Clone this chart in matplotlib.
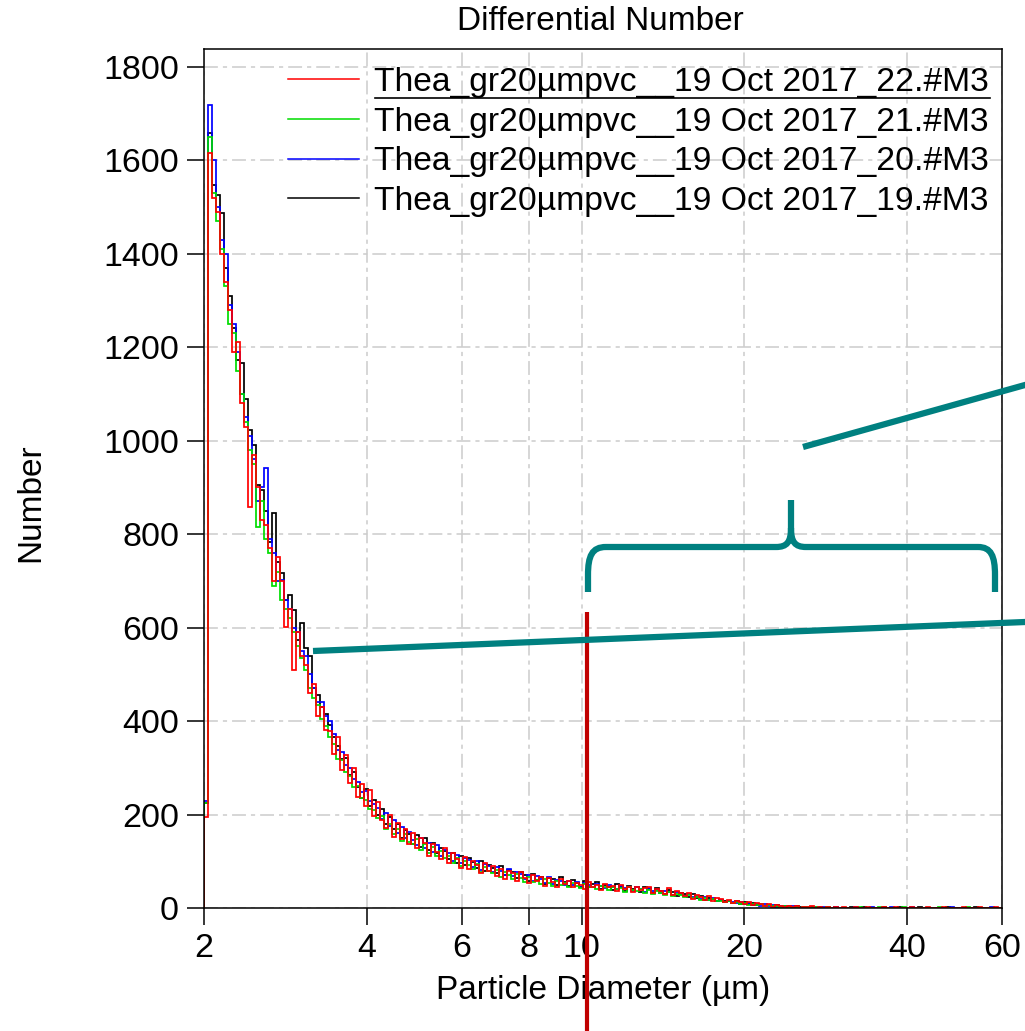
import numpy as np
import matplotlib.pyplot as plt
from matplotlib.path import Path
from matplotlib.patches import PathPatch

plt.rcParams['font.family'] = ['Liberation Sans', 'DejaVu Sans']
plt.rcParams['lines.scale_dashes'] = False

# Differential number per size channel (log-spaced channels from 2 to 60 um)
x_min, x_max = 2.0, 60.0

run_19 = [225,
          1658, 1547, 1525, 1487, 1370, 1310, 1240, 1173, 1166, 1090,
          1023, 990, 905, 895, 850, 783, 845, 740, 716, 659,
          670, 638, 573, 610, 556, 540, 470, 455, 430, 415,
          392, 365, 346, 318, 320, 285, 292, 258, 236, 255,
          218, 232, 200, 212, 180, 194, 168, 180, 150, 166,
          158, 138, 156, 130, 150, 124, 140, 118, 128, 122,
          104, 118, 96, 112, 92, 108, 98, 86, 100, 80,
          92, 86, 74, 90, 70, 82, 78, 64, 76, 70,
          58, 72, 60, 66, 52, 64, 62, 50, 66, 56,
          48, 60, 54, 44, 58, 46, 52, 56, 40, 50,
          46, 38, 52, 44, 36, 48, 40, 45, 34, 44,
          40, 32, 42, 36, 30, 38, 34, 26, 32, 30,
          24, 30, 22, 26, 18, 22, 20, 15, 18, 14,
          15, 11, 14, 9, 12, 8, 10, 6, 9, 5,
          7, 4, 6, 3, 5, 4, 2, 4, 3, 1,
          3, 2, 1, 3, 1, 2, 0, 2, 1, 1,
          0, 2, 0, 1, 3, 0, 0, 1, 0, 2,
          1, 0, 0, 2, 1, 0, 0, 0, 3, 1,
          0, 0, 1, 0, 0, 2, 0, 0, 1, 0,
          0, 0, 2, 0, 0, 1, 0, 0, 0]

run_20 = [230,
          1718, 1600, 1500, 1430, 1400, 1290, 1250, 1190, 1100, 1050,
          1010, 960, 870, 900, 941, 790, 760, 700, 702, 660,
          640, 600, 590, 550, 540, 500, 470, 440, 440, 410,
          400, 372, 338, 334, 306, 300, 276, 270, 248, 250,
          230, 222, 214, 190, 204, 176, 188, 160, 174, 150,
          162, 146, 134, 150, 128, 140, 120, 134, 112, 124,
          118, 100, 114, 96, 106, 102, 88, 100, 82, 94,
          90, 76, 88, 80, 70, 84, 68, 76, 72, 62,
          70, 58, 68, 62, 54, 66, 52, 60, 58, 50,
          58, 50, 56, 46, 54, 50, 44, 52, 48, 42,
          50, 44, 40, 48, 42, 46, 36, 44, 40, 34,
          42, 36, 38, 32, 36, 34, 28, 34, 30, 26,
          30, 24, 26, 20, 24, 18, 21, 16, 18, 13,
          16, 12, 10, 13, 8, 11, 7, 9, 5, 8,
          5, 6, 3, 5, 4, 2, 4, 3, 1, 3,
          2, 1, 3, 1, 2, 0, 1, 2, 1, 0,
          1, 0, 2, 0, 1, 0, 3, 0, 1, 0,
          0, 2, 0, 1, 0, 0, 2, 0, 0, 1,
          0, 0, 1, 0, 0, 0, 2, 0, 0, 1,
          0, 0, 0, 1, 0, 0, 2, 0, 0]

run_21 = [225,
          1650, 1530, 1470, 1410, 1330, 1250, 1230, 1150, 1100, 1040,
          980, 950, 815, 870, 790, 760, 690, 720, 660, 640,
          620, 590, 560, 535, 510, 470, 450, 435, 405, 390,
          366, 350, 318, 316, 290, 282, 258, 262, 236, 232,
          212, 210, 192, 196, 170, 180, 158, 168, 144, 158,
          142, 136, 148, 124, 136, 118, 130, 112, 122, 106,
          112, 96, 106, 90, 100, 92, 84, 94, 78, 88,
          80, 74, 82, 66, 78, 70, 62, 72, 64, 56,
          66, 56, 60, 52, 62, 54, 48, 58, 50, 54,
          46, 54, 48, 42, 52, 44, 46, 40, 48, 44,
          38, 46, 40, 42, 34, 44, 38, 36, 40, 32,
          38, 30, 36, 32, 28, 34, 26, 30, 28, 24,
          28, 22, 24, 18, 22, 17, 19, 14, 16, 13,
          14, 10, 12, 9, 11, 7, 9, 6, 8, 4,
          6, 4, 5, 2, 4, 3, 2, 3, 1, 2,
          2, 1, 2, 0, 1, 2, 1, 0, 1, 1,
          0, 1, 0, 2, 0, 0, 1, 0, 3, 0,
          0, 1, 0, 0, 2, 0, 0, 1, 0, 0,
          1, 0, 0, 2, 0, 0, 0, 1, 0, 0,
          3, 0, 0, 0, 1, 0, 0, 0, 0]

run_22 = [195,
          1616, 1520, 1490, 1400, 1340, 1280, 1190, 1210, 1080, 1030,
          858, 970, 900, 830, 820, 770, 700, 750, 700, 601,
          640, 509, 590, 540, 520, 460, 480, 410, 430, 380,
          378, 330, 366, 296, 328, 268, 300, 238, 266, 218,
          252, 196, 226, 188, 172, 200, 152, 182, 148, 170,
          136, 160, 128, 150, 140, 112, 138, 120, 104, 128,
          96, 118, 104, 86, 110, 84, 100, 92, 74, 96,
          80, 90, 68, 84, 62, 80, 74, 58, 78, 64,
          54, 70, 58, 66, 48, 64, 56, 46, 62, 52,
          58, 44, 54, 50, 40, 56, 46, 50, 38, 52,
          44, 48, 36, 50, 40, 44, 34, 46, 38, 42,
          46, 32, 40, 36, 30, 42, 28, 36, 32, 26,
          32, 20, 28, 24, 18, 26, 16, 22, 19, 12,
          18, 10, 14, 12, 8, 13, 6, 10, 8, 4,
          8, 3, 6, 4, 2, 5, 3, 4, 1, 3,
          2, 4, 1, 2, 0, 3, 1, 2, 0, 2,
          1, 0, 3, 0, 1, 2, 0, 1, 0, 2,
          0, 1, 3, 0, 1, 0, 2, 0, 1, 0,
          2, 0, 0, 1, 3, 0, 1, 0, 0, 2,
          0, 1, 0, 2, 0, 1, 0, 2, 1]

labels = ['Thea_gr20\u00b5mpvc__19 Oct 2017_22.#M3',
          'Thea_gr20\u00b5mpvc__19 Oct 2017_21.#M3',
          'Thea_gr20\u00b5mpvc__19 Oct 2017_20.#M3',
          'Thea_gr20\u00b5mpvc__19 Oct 2017_19.#M3']
colors = ['#ff0000', '#00dd00', '#0000ff', '#000000']
runs = [run_22, run_21, run_20, run_19]

x_ticks = [2, 4, 6, 8, 10, 20, 40, 60]
y_ticks = list(range(0, 1801, 200))

W, H = 1025, 1031
fig = plt.figure(figsize=(W / 100, H / 100), dpi=100)
ax = fig.add_axes([204 / W, 123 / H, 798 / W, 859 / H])

# draw black first so red ends on top
handles = [None] * 4
for i in [3, 2, 1, 0]:
    vals = runs[i]
    edges = np.geomspace(x_min, x_max, len(vals) + 1)
    ax.stairs(vals, edges, color=colors[i], lw=1.25, baseline=0)
    handles[i], = ax.plot([], [], color=colors[i], lw=1.1)

ax.set_xscale('log')
ax.set_xlim(x_min, x_max)
ax.set_ylim(0, 1838)
ax.set_xticks(x_ticks)
ax.set_xticklabels([str(t) for t in x_ticks])
ax.xaxis.set_minor_locator(plt.NullLocator())
ax.set_yticks(y_ticks)
ax.tick_params(axis='both', direction='out', length=12, width=1.1,
               labelsize=24.5, pad=6)
for s in ax.spines.values():
    s.set_linewidth(1.1)
ax.grid(True, color='#cccccc', lw=1.1, linestyle=(0, (10, 3.6, 3, 3.6)))
ax.set_axisbelow(True)

ax.set_xlabel('Particle Diameter (\u00b5m)', fontsize=24)
ax.xaxis.set_label_coords(0.5, -0.0955)
ax.xaxis.label.set_va('center')
ax.set_ylabel('Number', fontsize=24)
ax.yaxis.set_label_coords(-0.2168, 0.472)
ax.yaxis.label.set_va('center')
fig.text(600 / W, 1 - 21 / H, 'Differential Number', fontsize=24,
         ha='center', va='center')

ax.legend(handles, labels, loc='upper left',
          bbox_to_anchor=(288 / W, 1 - 67 / H), bbox_transform=fig.transFigure,
          frameon=False, fontsize=24.2, borderpad=0, borderaxespad=0,
          handlelength=2.1, handletextpad=0.45, labelspacing=0.26)

# overlay in pixel coordinates for the hand-drawn annotations
ov = fig.add_axes([0, 0, 1, 1], zorder=5)
ov.set_xlim(0, W)
ov.set_ylim(H, 0)
ov.axis('off')
ov.patch.set_alpha(0)

ov.plot([375, 990], [98, 98], color='black', lw=1.2)

teal = '#008080'
ov.plot([587, 587], [612, H + 5], color='#c00000', lw=3, solid_capstyle='butt',
        clip_on=False)
ov.plot([313, 1030], [651, 621.8], color=teal, lw=4.5, solid_capstyle='butt',
        clip_on=False)
ov.plot([803, 1030], [447, 383.6], color=teal, lw=4.5, solid_capstyle='butt',
        clip_on=False)

verts = [(588, 592), (588, 575), (588, 556), (592, 547), (606, 547),
         (776, 547), (787, 547), (791, 542), (791, 528), (791, 500),
         (791, 528), (791, 542), (795, 547), (806, 547),
         (978, 547), (991, 547), (995, 556), (995, 575), (995, 592)]
codes = [Path.MOVETO, Path.LINETO, Path.CURVE4, Path.CURVE4, Path.CURVE4,
         Path.LINETO, Path.CURVE4, Path.CURVE4, Path.CURVE4, Path.LINETO,
         Path.MOVETO, Path.CURVE4, Path.CURVE4, Path.CURVE4,
         Path.LINETO, Path.CURVE4, Path.CURVE4, Path.CURVE4, Path.LINETO]
ov.add_patch(PathPatch(Path(verts, codes), facecolor='none', edgecolor=teal,
                       lw=4.5, capstyle='butt'))

fig.savefig('out.png', dpi=100)
